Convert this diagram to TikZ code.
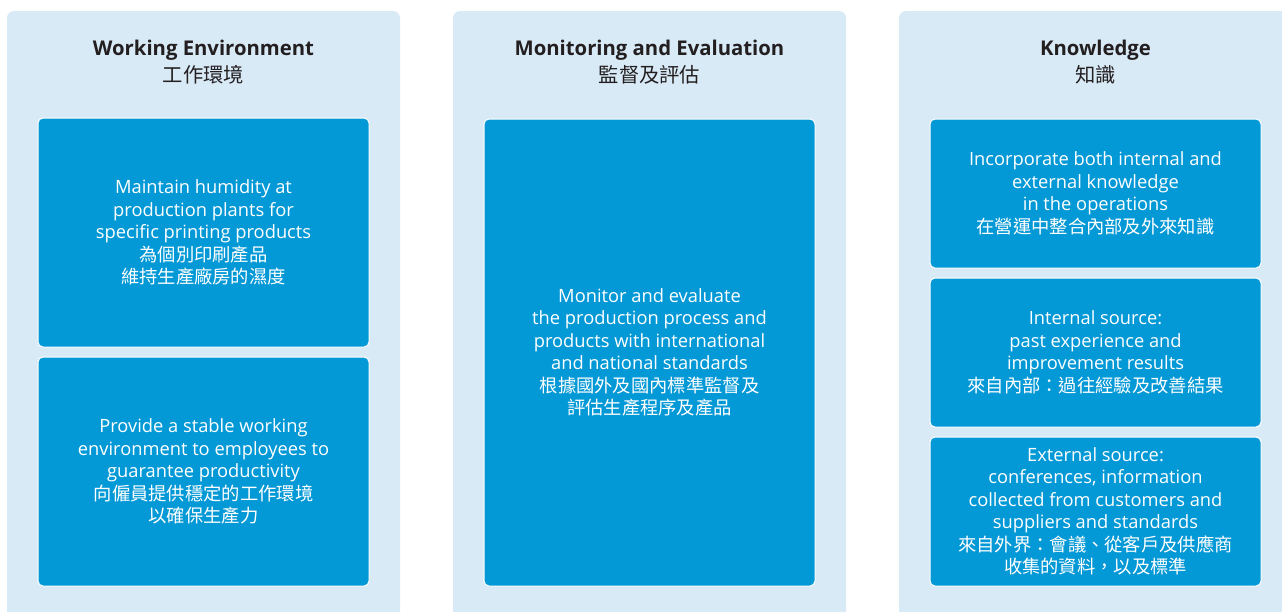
\documentclass[tikz,border=0pt]{standalone}
\usepackage{fontspec}
\setmainfont{Open Sans}
\newfontfamily\cjk{Noto Sans CJK TC}
\definecolor{panelc}{HTML}{D9EAF7}
\definecolor{boxc}{HTML}{0398D6}
\definecolor{ttlc}{HTML}{231F20}
\begin{document}
\begin{tikzpicture}[x=1pt,y=-1pt,
  panelbox/.style={fill=panelc, rounded corners=7pt},
  bluebox/.style={fill=boxc, draw=white, line width=1pt, rounded corners=5pt,
    text=white, align=center, inner sep=0pt, minimum width=331pt,
    font=\fontsize{18.3}{22.5}\selectfont},
  ttl/.style={text=ttlc, align=center, inner sep=0pt,
    font=\fontsize{20.3}{27}\selectfont}]
\useasboundingbox (0,0) rectangle (1282,611);
\clip (0,0) rectangle (1282,611);
\fill[white] (0,0) rectangle (1282,611);
% panels
\fill[panelbox] (7,11) rectangle (400,640);
\fill[panelbox] (453,11) rectangle (846,640);
\fill[panelbox] (899,11) rectangle (1292,640);
% titles
\node[ttl] (t1) at (203.5,62) {\bfseries Working Environment\\{\cjk 工作環境}};
\node[ttl] (t2) at (649.5,62) {\bfseries Monitoring and Evaluation\\{\cjk 監督及評估}};
\node[ttl] (t3) at (1095.5,62) {\bfseries Knowledge\\{\cjk 知識}};
% left column
\node[bluebox, minimum height=229pt] (b1) at (203.5,232.5)
  {Maintain humidity at\\production plants for\\specific printing products\\{\cjk 為個別印刷產品}\\{\cjk 維持生產廠房的濕度}};
\node[bluebox, minimum height=229pt] (b2) at (203.5,471.5)
  {Provide a stable working\\environment to employees to\\guarantee productivity\\{\cjk 向僱員提供穩定的工作環境}\\{\cjk 以確保生產力}};
% middle column
\node[bluebox, minimum height=467pt] (b3) at (649.5,352.5)
  {Monitor and evaluate\\the production process and\\products with international\\and national standards\\{\cjk 根據國外及國內標準監督及}\\{\cjk 評估生產程序及產品}};
% right column
\node[bluebox, minimum height=149pt] (b4) at (1095.5,193.5)
  {Incorporate both internal and\\external knowledge\\in the operations\\{\cjk 在營運中整合內部及外來知識}};
\node[bluebox, minimum height=149pt] (b5) at (1095.5,352.5)
  {Internal source:\\past experience and\\improvement results\\{\cjk 來自內部：過往經驗及改善結果}};
\node[bluebox, minimum height=149pt] (b6) at (1095.5,511.5)
  {External source:\\conferences, information\\collected from customers and\\suppliers and standards\\{\cjk 來自外界：會議、從客戶及供應商}\\{\cjk 收集的資料，以及標準}};
\end{tikzpicture}
\end{document}
